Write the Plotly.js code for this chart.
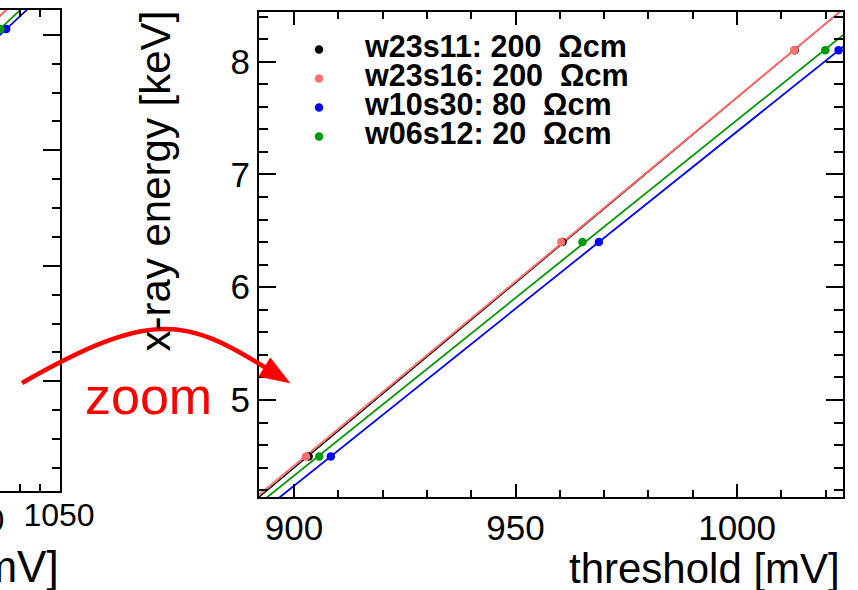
<!DOCTYPE html>
<html><head><meta charset="utf-8">
<script src="https://cdn.plot.ly/plotly-3.0.1.min.js"></script>
<style>html,body{margin:0;padding:0;background:#fff;} #chart{width:858px;height:590px;}</style>
</head><body><div id="chart"></div>
<script>
// ---- data ----
const energy = [4.5, 6.4, 8.1];               // keV
const thrW23s11 = [903.3, 960.6, 1013.0];      // mV
const thrW23s16 = [902.7, 960.3, 1012.9];
const thrW10s30 = [908.3, 968.8, 1022.9];
const thrW06s12 = [905.7, 965.1, 1019.9];
const seriesLabels = ['w23s11: 200', 'w23s16: 200', 'w10s30: 80', 'w06s12: 20'];
const unitLabel = 'Ωcm';
const xTitle = 'threshold [mV]';
const yTitle = 'x-ray energy [keV]';
const zoomLabel = 'zoom';
const hiddenTickLabel = '1000';

// ---- styling / geometry ----
const W = 858, H = 590;
const px = x => x / W, py = y => 1 - y / H;
const P = (x, y) => px(x).toFixed(5) + ',' + py(y).toFixed(5);
const FONT = 'Liberation Sans, Arial, Helvetica, sans-serif';
const colors = ['#000000', '#ff7070', '#0000ff', '#009900'];
const lineWidths = [1.3, 2, 1.8, 1.8];
const mainX = [892.1, 1023.9], mainY = [4.14, 8.44];
const leftX = [1019.7, 1050.5], leftY = [0.1, 8.43];

const series = [thrW23s11, thrW23s16, thrW10s30, thrW06s12];

function linfit(xs, ys) {
  const n = xs.length;
  const mx = xs.reduce((a, b) => a + b, 0) / n, my = ys.reduce((a, b) => a + b, 0) / n;
  let sxx = 0, sxy = 0;
  for (let i = 0; i < n; i++) { sxx += (xs[i] - mx) ** 2; sxy += (xs[i] - mx) * (ys[i] - my); }
  const b = sxy / sxx;
  return { b, a: my - b * mx };
}

const traces = [];
const subplots = [['x', 'y', mainX], ['x2', 'y2', leftX]];
subplots.forEach(([xa, ya, xr], k) => {
  series.forEach((thr, i) => {
    const f = linfit(thr, energy);
    const xs = [xr[0] - 20, xr[1] + 20];
    traces.push({
      type: 'scatter', mode: 'lines', x: xs, y: xs.map(v => f.a + f.b * v),
      xaxis: xa, yaxis: ya, showlegend: false, hoverinfo: 'skip',
      line: { color: colors[i], width: lineWidths[i] }
    });
  });
  series.forEach((thr, i) => {
    traces.push({
      type: 'scatter', mode: 'markers', x: thr, y: energy,
      xaxis: xa, yaxis: ya, showlegend: k === 0,
      name: '<span style="font-size:30.5px">' + seriesLabels[i] + '\u00a0\u00a0' + unitLabel + '</span>',
      marker: { color: colors[i], size: 8.5 }
    });
  });
});

const axisCommon = {
  showline: true, linecolor: '#000', linewidth: 2, ticks: 'inside', tickcolor: '#000', tickwidth: 2,
  showgrid: false, zeroline: false, fixedrange: true
};

const layout = {
  width: W, height: H, margin: { l: 0, r: 0, t: 0, b: 0, pad: 0 },
  paper_bgcolor: '#fff', plot_bgcolor: '#fff',
  font: { family: FONT, color: '#000' },
  showlegend: true,
  legend: {
    x: px(273), y: py(30), xanchor: 'left', yanchor: 'top', bgcolor: 'rgba(0,0,0,0)',
    font: { size: 20, weight: 'bold', family: FONT }, itemwidth: 82, tracegroupgap: 0, borderwidth: 0
  },
  xaxis: Object.assign({}, axisCommon, {
    domain: [px(259), px(843)], range: mainX, anchor: 'y', mirror: 'ticks',
    ticklen: 13, dtick: 50, tick0: 0, tickfont: { size: 35 }, ticklabelstandoff: -1,
    minor: { ticks: 'inside', ticklen: 7, tickwidth: 2, tickcolor: '#000', dtick: 10, tick0: 0 }
  }),
  yaxis: Object.assign({}, axisCommon, {
    domain: [py(497), py(12)], range: mainY, anchor: 'x', mirror: 'ticks',
    ticklen: 17, dtick: 1, tick0: 0, tickfont: { size: 35 }, ticklabelstandoff: 0,
    minor: { ticks: 'inside', ticklen: 9, tickwidth: 2, tickcolor: '#000', dtick: 0.2, tick0: 0 }
  }),
  xaxis2: Object.assign({}, axisCommon, {
    domain: [0, px(60)], range: leftX, anchor: 'y2', mirror: 'ticks',
    ticklen: 13, dtick: 50, tick0: 0, tickfont: { size: 32 }, ticklabelstandoff: -5,
    minor: { ticks: 'inside', ticklen: 7, tickwidth: 2, tickcolor: '#000', dtick: 10, tick0: 0 }
  }),
  yaxis2: Object.assign({}, axisCommon, {
    domain: [py(491), py(10)], range: leftY, anchor: 'x2', side: 'right', mirror: false,
    showticklabels: false, ticklen: 17, dtick: 2, tick0: 0,
    minor: { ticks: 'inside', ticklen: 8, tickwidth: 2, tickcolor: '#000', dtick: 0.5, tick0: 0 }
  }),
  shapes: [
    { type: 'path', xref: 'paper', yref: 'paper',
      path: 'M ' + P(22, 383) + ' C ' + P(150, 310) + ' ' + P(185, 317) + ' ' + P(266, 368),
      line: { color: '#ff0000', width: 4.5 } },
    { type: 'path', xref: 'paper', yref: 'paper',
      path: 'M ' + P(290, 383) + ' L ' + P(258.7, 376.5) + ' L ' + P(270.3, 357.8) + ' Z',
      fillcolor: '#ff0000', line: { color: '#ff0000', width: 0.5 } }
  ],
  annotations: [
    { text: yTitle, xref: 'paper', yref: 'paper', x: px(155), y: py(9), xanchor: 'center', yanchor: 'top',
      textangle: -90, showarrow: false, font: { size: 42, family: FONT, color: '#000' } },
    { text: xTitle, xref: 'paper', yref: 'paper', x: px(842), y: py(568), xanchor: 'right', yanchor: 'middle',
      showarrow: false, font: { size: 42, family: FONT, color: '#000' } },
    { text: xTitle, xref: 'paper', yref: 'paper', x: px(61), y: py(566), xanchor: 'right', yanchor: 'middle',
      showarrow: false, font: { size: 44, family: FONT, color: '#000' } },
    { text: hiddenTickLabel, xref: 'paper', yref: 'paper', x: px(6), y: py(520), xanchor: 'right', yanchor: 'middle',
      showarrow: false, font: { size: 32, family: FONT, color: '#000' } },
    { text: zoomLabel, xref: 'paper', yref: 'paper', x: px(148), y: py(396), xanchor: 'center', yanchor: 'middle',
      showarrow: false, font: { size: 52, family: FONT, color: '#ff0000' } }
  ]
};

Plotly.newPlot('chart', traces, layout, { displayModeBar: false, staticPlot: true });
</script>
</body></html>
